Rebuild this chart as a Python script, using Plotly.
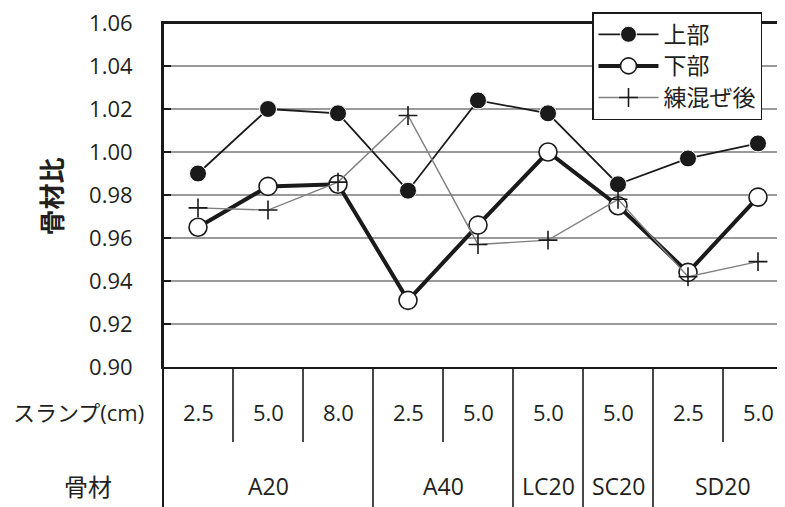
import plotly.graph_objects as go

# ---- data ----
positions = [0, 1, 2, 3, 4, 5, 6, 7, 8]
slump_labels = ["2.5", "5.0", "8.0", "2.5", "5.0", "5.0", "5.0", "2.5", "5.0"]
group_names = ["A20", "A40", "LC20", "SC20", "SD20"]
group_sizes = [3, 2, 1, 1, 2]
upper = [0.990, 1.020, 1.018, 0.982, 1.024, 1.018, 0.985, 0.997, 1.004]
lower = [0.965, 0.984, 0.985, 0.931, 0.966, 1.000, 0.975, 0.944, 0.979]
mixed = [0.974, 0.973, 0.986, 1.017, 0.957, 0.959, 0.978, 0.942, 0.949]
y_ticks = [0.90, 0.92, 0.94, 0.96, 0.98, 1.00, 1.02, 1.04, 1.06]

TXT = "#231f20"
FONT = "Open Sans, Noto Sans CJK JP, sans-serif"
JFONT = "Noto Sans CJK JP, sans-serif"

OFF = 8                    # page body margin
W, H = 785 - OFF, 507 - OFF
ML = 163 - OFF
MT = 23 - OFF
BOTTOM = 367 - OFF
MB = H - BOTTOM
PH = BOTTOM - MT
PW = W - ML


def py(page_px):
    return (BOTTOM - (page_px - OFF)) / PH


def pxx(page_px):
    return ((page_px - OFF) - ML) / PW


def span(t, s=23):
    return "<span style='font-size:%dpx'>%s</span>" % (s, t)


fig = go.Figure()
fig.add_trace(go.Scatter(
    x=positions, y=upper, name=span("上部"), mode="lines+markers",
    line=dict(color="#1a1a1a", width=1.8),
    marker=dict(symbol="circle", size=17, color="#1a1a1a",
                line=dict(color="white", width=1)),
))
fig.add_trace(go.Scatter(
    x=positions, y=lower, name=span("下部"), mode="lines+markers",
    line=dict(color="#1a1a1a", width=4),
    marker=dict(symbol="circle", size=18, color="white",
                line=dict(color="#1a1a1a", width=1.6)),
))
fig.add_trace(go.Scatter(
    x=positions, y=mixed, name=span("練混ぜ後"), mode="lines+markers",
    line=dict(color="#808080", width=1.4),
    marker=dict(symbol="cross-thin", size=13.5, color="#1a1a1a",
                line=dict(color="#1a1a1a", width=1.6)),
))

shapes = []
# plot frame: top edge and left edge running down through the table
shapes.append(dict(type="line", xref="paper", yref="paper", x0=0, x1=1.01,
                   y0=1, y1=1, line=dict(color="#1a1a1a", width=2), layer="above"))
shapes.append(dict(type="line", xref="paper", yref="paper", x0=0, x1=0,
                   y0=1, y1=py(520), line=dict(color="#1a1a1a", width=2)))
idx = 0
group_centers = []
for gi, size in enumerate(group_sizes):
    group_centers.append(idx + (size - 1) / 2)
    for k in range(size):
        pos = idx + k
        if pos < len(positions) - 1:
            y1 = py(442) if k < size - 1 else py(520)
            shapes.append(dict(type="line", xref="x", yref="paper",
                               x0=pos + 0.5, x1=pos + 0.5, y0=0, y1=y1,
                               line=dict(color="#1a1a1a", width=1.6)))
    idx += size

annotations = []
for p, s in zip(positions, slump_labels):
    annotations.append(dict(x=p, y=py(412), xref="x", yref="paper", text=s,
                            showarrow=False, xanchor="center", yanchor="middle",
                            font=dict(family=FONT, size=22, color=TXT)))
for c, g in zip(group_centers, group_names):
    annotations.append(dict(x=c, y=py(486), xref="x", yref="paper", text=g,
                            showarrow=False, xanchor="center", yanchor="middle",
                            font=dict(family=FONT, size=23, color=TXT)))
annotations.append(dict(x=pxx(78.5), y=py(412), xref="paper", yref="paper",
                        text="スランプ(cm)", showarrow=False, xanchor="center",
                        yanchor="middle", font=dict(family=FONT, size=22, color=TXT)))
annotations.append(dict(x=pxx(87.5), y=py(485), xref="paper", yref="paper",
                        text="骨材", showarrow=False, xanchor="center",
                        yanchor="middle", font=dict(family=JFONT, size=24, color=TXT)))
annotations.append(dict(x=pxx(49.5), y=py(197), xref="paper", yref="paper",
                        text="<b>骨材比</b>", showarrow=False, textangle=-90,
                        xanchor="center", yanchor="middle",
                        font=dict(family=JFONT, size=26, color=TXT)))

fig.update_layout(
    width=W, height=H, autosize=False,
    margin=dict(l=ML, r=0, t=MT, b=MB, pad=0, autoexpand=False),
    paper_bgcolor="white", plot_bgcolor="white",
    showlegend=True,
    legend=dict(x=pxx(592), y=py(12), xanchor="left", yanchor="top",
                bgcolor="white", bordercolor="#1a1a1a", borderwidth=1.5,
                font=dict(family=FONT, size=22, color=TXT),
                itemwidth=60, tracegroupgap=0),
    xaxis=dict(range=[-0.5, -0.5 + PW / 70.0], showgrid=False, zeroline=False,
               showticklabels=False, ticks="", showline=True, mirror=True,
               linecolor="#1a1a1a", linewidth=2, fixedrange=True,
               automargin=False),
    yaxis=dict(range=[0.89999, 1.06001], tickvals=y_ticks, tickformat=".2f",
               showgrid=True, gridcolor="#9a9a9a", gridwidth=2, zeroline=False,
               ticks="inside", ticklen=8, tickwidth=2, tickcolor="#1a1a1a",
               showline=True, linecolor="#1a1a1a", linewidth=2,
               ticklabelstandoff=24, ticklabeloverflow="allow",
               automargin=False,
               tickfont=dict(family=FONT, size=22, color=TXT), fixedrange=True),
    shapes=shapes,
    annotations=annotations,
)

fig.write_html("out.html")
